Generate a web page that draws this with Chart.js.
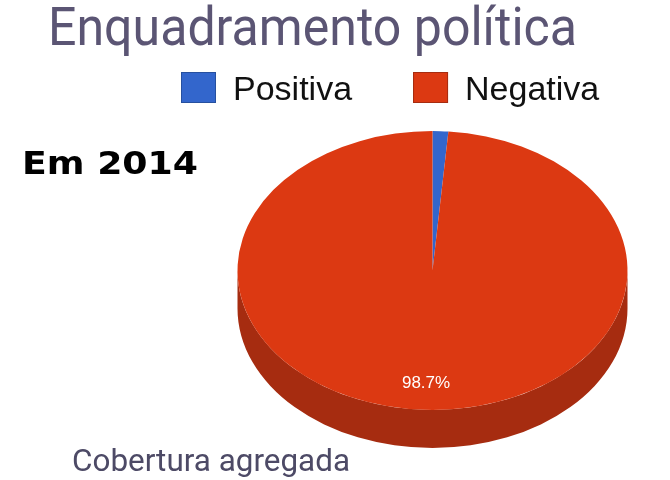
<!DOCTYPE html>
<html lang="pt">

<head>
  <meta charset="UTF-8" />
  <title>Enquadramento política</title>
  <script src="https://cdn.jsdelivr.net/npm/chart.js"></script>
  <style>
    body {
      margin: 0;
      background: #ffffff;
    }

    .chart-box {
      width: 670px;
      height: 480px;
    }
  </style>
</head>

<body>
  <div class="chart-box">
    <canvas id="pieChart" width="670" height="480"></canvas>
  </div>

  <script>
    // data
    const categories = ["Positiva", "Negativa"];
    const shares = [1.3, 98.7];
    const titleText = "Enquadramento política";
    const yearText = "Em 2014";
    const footText = "Cobertura agregada";

    const topColors = ["#3366cc", "#dc3912"];
    const sideColors = ["#26509f", "#a62c10"];

    // look of the tilted pie
    const TOP_CY = 270.5;   // centre of the top ellipse
    const TILT = 0.715;     // ry / rx
    const DEPTH = 38;       // thickness of the side

    // draw text squeezed/stretched to a given width
    function fitText(ctx, text, x, y, width, font, color) {
      ctx.save();
      ctx.font = font;
      ctx.fillStyle = color;
      ctx.textBaseline = "alphabetic";
      ctx.textAlign = "left";
      const w = ctx.measureText(text).width;
      ctx.translate(x, y);
      ctx.scale(width / w, 1);
      ctx.fillText(text, 0, 0);
      ctx.restore();
    }

    const pie3d = {
      id: "pie3d",
      beforeDatasetsDraw(chart) {
        const ctx = chart.ctx;
        const meta = chart.getDatasetMeta(0);
        const first = meta.data[0];
        const cx = first.x;
        const r = first.outerRadius;
        const ry = r * TILT;

        ctx.save();
        // side of the pie: only the front half shows
        meta.data.forEach((arc, i) => {
          const a0 = Math.max(arc.startAngle, 0);
          const a1 = Math.min(arc.endAngle, Math.PI);
          if (a1 <= a0) return;
          ctx.beginPath();
          ctx.ellipse(cx, TOP_CY, r, ry, 0, a0, a1);
          ctx.ellipse(cx, TOP_CY + DEPTH, r, ry, 0, a1, a0, true);
          ctx.closePath();
          ctx.fillStyle = sideColors[i];
          ctx.fill();
        });

        // squash the round pie into the top ellipse
        ctx.translate(0, TOP_CY);
        ctx.scale(1, TILT);
        ctx.translate(0, -first.y);
      },
      afterDatasetsDraw(chart) {
        const ctx = chart.ctx;
        ctx.restore();

        const meta = chart.getDatasetMeta(0);
        const total = shares.reduce((a, b) => a + b, 0);
        ctx.save();
        ctx.font = "17px 'Liberation Sans', Arial, sans-serif";
        ctx.fillStyle = "#ffffff";
        ctx.textAlign = "center";
        ctx.textBaseline = "middle";
        meta.data.forEach((arc, i) => {
          if (shares[i] / total < 0.05) return;
          const mid = (arc.startAngle + arc.endAngle) / 2;
          const r = arc.outerRadius * 0.81;
          const x = arc.x + Math.cos(mid) * r;
          const y = TOP_CY + Math.sin(mid) * r * TILT;
          ctx.fillText(shares[i].toFixed(1) + "%", x, y);
        });
        ctx.restore();
      },
      afterDraw(chart) {
        const ctx = chart.ctx;

        fitText(ctx, titleText, 48, 45, 529, "53px Roboto, sans-serif", "#5b5574");
        fitText(ctx, yearText, 22, 174, 176, "bold 32px 'DejaVu Sans', sans-serif", "#000000");
        fitText(ctx, footText, 72, 471, 278, "31px Roboto, sans-serif", "#4d4a66");

        // legend
        ctx.save();
        ctx.font = "34px 'Liberation Sans', Arial, sans-serif";
        ctx.textBaseline = "alphabetic";
        let x = 181;
        categories.forEach((name, i) => {
          ctx.fillStyle = topColors[i];
          ctx.fillRect(x, 72, 35, 31);
          ctx.strokeStyle = sideColors[i];
          ctx.lineWidth = 1;
          ctx.strokeRect(x + 0.5, 72.5, 34, 30);
          ctx.fillStyle = "#111111";
          ctx.fillText(name, x + 52, 100);
          x += 52 + ctx.measureText(name).width + 61;
        });
        ctx.restore();
      }
    };

    const ctx = document.getElementById("pieChart").getContext("2d");
    new Chart(ctx, {
      type: "pie",
      data: {
        labels: categories,
        datasets: [{
          data: shares,
          backgroundColor: topColors,
          borderWidth: 0,
          clip: false
        }]
      },
      options: {
        responsive: false,
        animation: false,
        events: [],
        layout: {
          padding: { left: 237.5, right: 42.5, top: 45, bottom: 45 }
        },
        plugins: {
          legend: { display: false },
          tooltip: { enabled: false }
        }
      },
      plugins: [pie3d]
    });
  </script>
</body>

</html>
